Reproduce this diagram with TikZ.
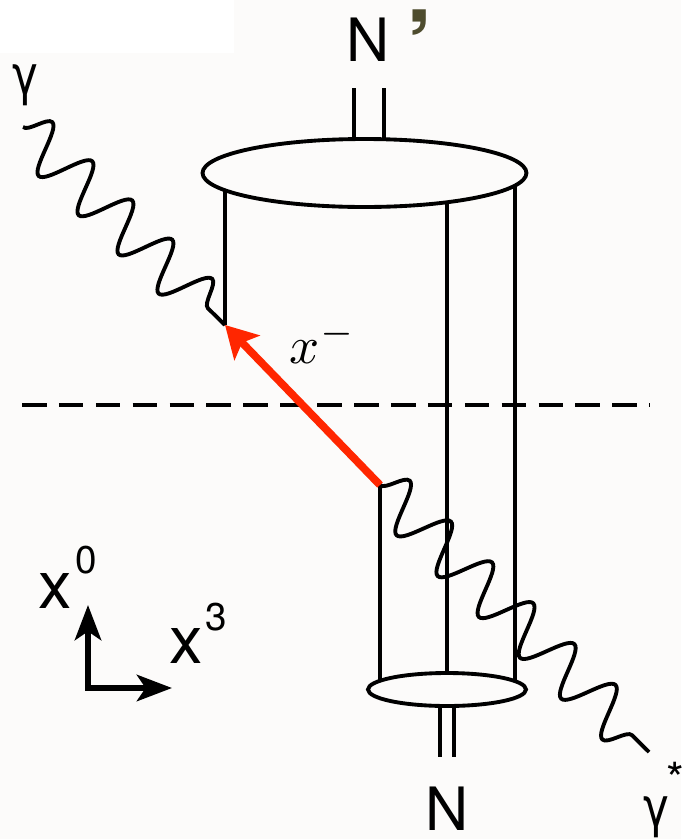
\documentclass[tikz,border=0pt]{standalone}
\usepackage{fontspec}
\usepackage{graphicx}
\setmainfont{TeX Gyre Heros}
\newfontfamily\gfont[FakeStretch=0.8]{DejaVu Sans}
\usetikzlibrary{arrows.meta,decorations.pathmorphing,shapes.geometric}
\definecolor{paper}{RGB}{252,251,250}
\definecolor{probe}{RGB}{255,38,0}
\definecolor{primecol}{RGB}{78,76,46}
\begin{document}
\begin{tikzpicture}[x=0.02cm,y=-0.02cm,line width=2.2pt,
 blob/.style={draw,ellipse,fill=paper,inner sep=0pt},
 photon/.style={decorate,decoration={snake,amplitude=0.48cm,segment length=#1}},
 axis/.style={line width=3.2pt,{Stealth[length=20pt,width=15pt,inset=5pt]}-{Stealth[length=20pt,width=15pt,inset=5pt]}},
 lbl/.style={inner sep=0pt}]
\useasboundingbox (0,0) rectangle (681,839);
\fill[paper] (0,0) rectangle (681,839);
\fill[white] (0,0) rectangle (234,53);
\coordinate (dL) at (22,405);
\coordinate (dR) at (650,405);
\draw[dash pattern=on 14pt off 7pt] (dL) -- (dR);
\coordinate (cf) at (364.5,173);
\coordinate (ci) at (447,689.5);
\coordinate (vtop) at (225,325);
\coordinate (vbot) at (380,485);
\coordinate (rr) at (515,173);
\draw (vtop |- cf) -- (vtop);
\draw (vbot) -- (vbot |- ci);
\draw (ci |- cf) -- (ci);
\draw (rr) -- (rr |- ci);
\foreach \x in {354,384} \draw (\x,88) -- (\x,173);
\foreach \x in {440,454} \draw (\x,689) -- (\x,757);
\node[blob,minimum width=6.48cm,minimum height=1.36cm] (Nf) at (cf) {};
\node[blob,minimum width=3.16cm,minimum height=0.66cm] (Ni) at (ci) {};
\coordinate (gA) at (23,127);
\coordinate (gB) at (649,752);
\draw[photon=1.12cm] (gA) -- (vtop);
\draw[photon=1.16cm] (vbot) -- (gB);
\draw[probe,line width=4.4pt,-{Stealth[length=18pt,width=20pt,inset=4pt]}] (vbot) -- (vtop);
\coordinate (org) at (88,688);
\coordinate (t0) at (88,605);
\coordinate (t3) at (172,688);
\draw[axis] (t0) -- (org) -- (t3);
\node[lbl,font=\fontsize{34}{34}\selectfont,anchor=base] (Np) at (368,61) {N};
\node[lbl,font=\fontsize{56}{56}\selectfont\bfseries,text=primecol,anchor=north west] (pr) at (405,8) {’};
\node[lbl,font=\fontsize{34}{34}\selectfont,anchor=base] (Nn) at (447,830) {N};
\node[lbl,font=\gfont\fontsize{31}{31}\selectfont,anchor=north] (ga) at (25,63) {γ};
\node[lbl,font=\gfont\fontsize{31}{31}\selectfont,anchor=north] (gb) at (656,795) {γ};
\node[lbl,font=\fontsize{26}{26}\selectfont,anchor=north west] (st) at (665,760) {*};
\node[lbl,font=\fontsize{38}{38}\selectfont,anchor=base] (x0) at (55,608) {x};
\node[lbl,font=\fontsize{22}{22}\selectfont,anchor=base] (s0) at (86,573) {0};
\node[lbl,font=\fontsize{38}{38}\selectfont,anchor=base] (x3) at (186.5,663) {x};
\node[lbl,font=\fontsize{22}{22}\selectfont,anchor=base] (s3) at (216.5,630) {3};
\node[lbl,font=\fontsize{10}{10}\selectfont,anchor=base west] (xm) at (288,363) {\scalebox{3}{$x^{-}$}};
\end{tikzpicture}
\end{document}
